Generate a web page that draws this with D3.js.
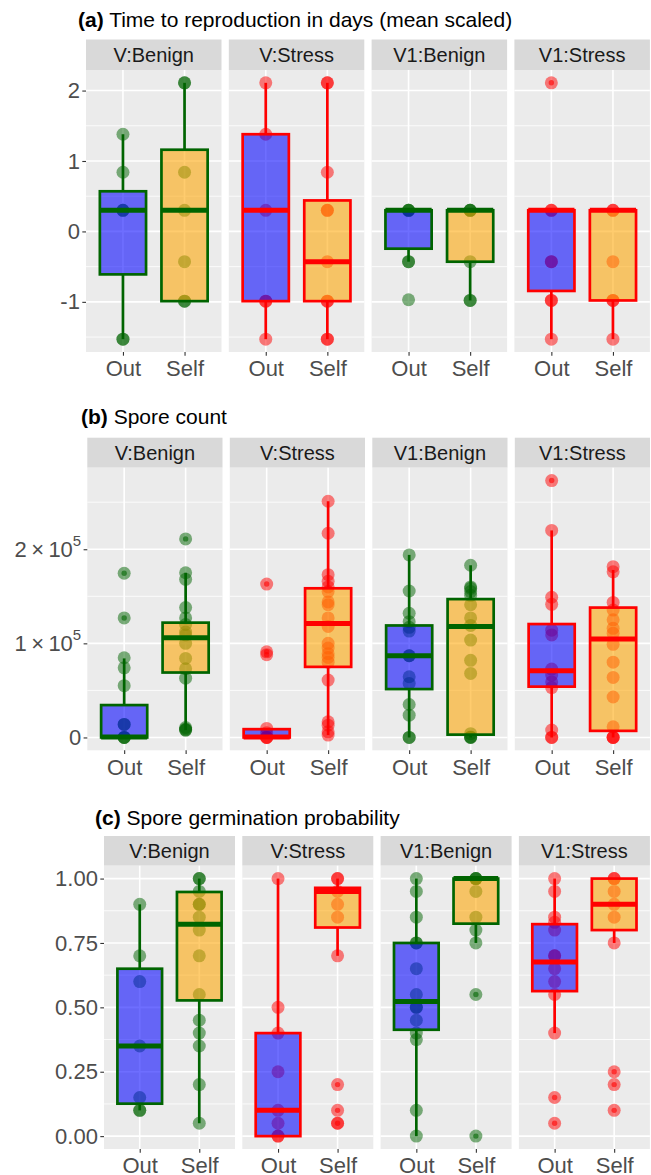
<!DOCTYPE html>
<html><head><meta charset="utf-8">
<script src="https://cdn.jsdelivr.net/npm/d3@7"></script>
<style>
body{margin:0;background:#fff}
text{font-family:"Liberation Sans",Arial,Helvetica,sans-serif}
</style>
</head><body>
<svg id="chart" width="651" height="1175"></svg>
<script>
// ---------- shared categories ----------
const facetLabels = ["V:Benign", "V:Stress", "V1:Benign", "V1:Stress"];
const facetStress = ["Benign", "Stress", "Benign", "Stress"];
const groupLabels = ["Out", "Self"];

// ---------- (a) Time to reproduction (mean scaled) ----------
// points per facet, [Out, Self]
const timePoints = [
  [[1.38, 0.84, 0.30, 0.30, -1.53, -1.53], [2.11, 2.11, 0.84, 0.30, -0.43, -0.99, -0.99]],
  [[2.11, 1.38, 0.30, -0.99, -0.99, -1.53], [2.11, 2.11, 0.84, 0.30, 0.30, -0.43, -0.99, -0.99, -1.53, -1.53]],
  [[0.30, 0.30, 0.30, -0.43, -0.43, -0.97], [0.30, 0.30, 0.30, -0.43, -0.98, -0.98]],
  [[2.11, 0.30, 0.30, -0.43, -0.43, -0.98, -0.98, -1.53], [0.30, 0.30, -0.43, -0.98, -0.98, -1.53]]
];
// box stats [lower whisker, q1, median, q3, upper whisker]
const timeBoxes = [
  [[-1.53, -0.61, 0.30, 0.57, 1.38], [-0.99, -0.99, 0.30, 1.16, 2.11]],
  [[-1.53, -0.99, 0.30, 1.38, 2.11], [-1.53, -0.99, -0.43, 0.44, 2.11]],
  [[-0.43, -0.245, 0.30, 0.30, 0.30], [-0.98, -0.43, 0.30, 0.30, 0.30]],
  [[-1.53, -0.845, 0.30, 0.30, 0.30], [-1.53, -0.98, 0.30, 0.30, 0.30]]
];
const timeOutliers = [
  [[], []],
  [[], []],
  [[], []],
  [[2.11], []]
];
const timeTicks = [-1, 0, 1, 2];
const timeTickLabels = [["-1", ""], ["0", ""], ["1", ""], ["2", ""]];

// ---------- (b) Spore count ----------
const sporePoints = [
  [[174500, 127000, 84700, 74000, 55000, 13800, 13800, 0, 0, 0],
   [211000, 175000, 168000, 138000, 127000, 120000, 112000, 109000, 100000, 84000, 73000, 63000, 10600, 9000, 7800, 7800]],
  [[163000, 91000, 88000, 9600, 5000, 0, 0, 0],
   [251000, 217000, 173000, 166000, 160000, 155000, 144000, 141000, 127000, 118000, 100000, 95000, 89000, 85000, 80000, 61000, 16600, 13000, 6000, 2500]],
  [[194000, 155600, 132000, 123000, 117000, 113000, 86800, 86800, 64500, 57400, 35000, 23700, 0, 0],
   [183000, 160000, 158500, 155000, 151000, 141000, 127000, 119000, 103500, 82000, 68000, 4000, 600, 0, 0]],
  [[273000, 220000, 149000, 141500, 114000, 109000, 72700, 66300, 59000, 53000, 7800, 0, 0],
   [181500, 176000, 143500, 135400, 125000, 116000, 110600, 99000, 80000, 63800, 43000, 11300, 0, 0, 0]]
];
const sporeBoxes = [
  [[0, 0, 500, 34400, 84000], [7800, 69000, 106000, 122000, 175000]],
  [[0, 0, 500, 8800, 9600], [2500, 75000, 121000, 158500, 251000]],
  [[0, 51400, 86800, 119000, 194000], [0, 3000, 118000, 147000, 183000]],
  [[0, 54000, 71000, 120500, 220000], [0, 7000, 104500, 138000, 178000]]
];
const sporeOutliers = [
  [[174500, 127000], [211000]],
  [[163000, 91000, 88000], []],
  [[], []],
  [[273000], []]
];
const sporeTicks = [0, 100000, 200000];
const sporeTickLabels = [["0", ""], ["1\u2009×\u200910", "5"], ["2\u2009×\u200910", "5"]];

// ---------- (c) Spore germination probability ----------
const germPoints = [
  [[0.90, 0.70, 0.60, 0.35, 0.15, 0.10, 0.10],
   [1.00, 1.00, 0.95, 0.90, 0.90, 0.85, 0.80, 0.70, 0.55, 0.45, 0.40, 0.35, 0.20, 0.05]],
  [[1.00, 0.50, 0.40, 0.25, 0.10, 0.05, 0.00, 0.00],
   [1.00, 1.00, 0.95, 0.90, 0.85, 0.70, 0.20, 0.10, 0.05, 0.05]],
  [[1.00, 0.95, 0.85, 0.75, 0.75, 0.65, 0.55, 0.50, 0.50, 0.45, 0.40, 0.375, 0.10, 0.00],
   [1.00, 1.00, 1.00, 0.95, 0.85, 0.80, 0.75, 0.55, 0.00]],
  [[1.00, 0.95, 0.85, 0.83, 0.80, 0.70, 0.70, 0.65, 0.60, 0.55, 0.40, 0.15, 0.05],
   [1.00, 1.00, 0.95, 0.90, 0.85, 0.75, 0.25, 0.20, 0.10]]
];
const germBoxes = [
  [[0.10, 0.126, 0.35, 0.65, 0.90], [0.05, 0.527, 0.823, 0.948, 1.00]],
  [[0.00, 0.00, 0.10, 0.40, 1.00], [0.70, 0.81, 0.95, 0.964, 1.00]],
  [[0.00, 0.413, 0.523, 0.75, 1.00], [0.75, 0.825, 1.00, 1.00, 1.00]],
  [[0.40, 0.563, 0.676, 0.823, 1.00], [0.75, 0.80, 0.90, 1.00, 1.00]]
];
const germOutliers = [
  [[], []],
  [[], [0.20, 0.10, 0.05]],
  [[], [0.55, 0.00]],
  [[0.15, 0.05], [0.25, 0.20, 0.10]]
];
const germTicks = [0, 0.25, 0.5, 0.75, 1];
const germTickLabels = [["0.00", ""], ["0.25", ""], ["0.50", ""], ["0.75", ""], ["1.00", ""]];

// ---------- styling ----------
const stressColor = { Benign: "#006400", Stress: "#FF0000" };
const groupFill = { Out: "#0000FF", Self: "#FFA500" };
const FILL_ALPHA = 0.57;
const POINT_ALPHA = 0.5;
const AXIS_FS = 22;
const STRIP_FS = 20;
const TITLE_FS = 21;

const svg = d3.select("#chart");

const layouts = [
  { tag: "(a)", title: " Time to reproduction in days (mean scaled)", titleX: 78, titleY: 27,
    left: 86, width: 135.5, gap: 7.3, stripTop: 39.5, top: 70, bottom: 352,
    points: timePoints, boxes: timeBoxes, outliers: timeOutliers, ticks: timeTicks, labels: timeTickLabels },
  { tag: "(b)", title: " Spore count", titleX: 81, titleY: 424,
    left: 87.3, width: 135.2, gap: 7.3, stripTop: 437.7, top: 467.7, bottom: 750.3,
    points: sporePoints, boxes: sporeBoxes, outliers: sporeOutliers, ticks: sporeTicks, labels: sporeTickLabels },
  { tag: "(c)", title: " Spore germination probability", titleX: 95, titleY: 825,
    left: 104, width: 131, gap: 7.3, stripTop: 836, top: 865.7, bottom: 1149,
    points: germPoints, boxes: germBoxes, outliers: germOutliers, ticks: germTicks, labels: germTickLabels }
];

layouts.forEach(L => {
  // title
  const t = svg.append("text").attr("x", L.titleX).attr("y", L.titleY)
    .attr("font-size", TITLE_FS).attr("fill", "#000");
  t.append("tspan").attr("font-weight", "bold").text(L.tag);
  t.append("tspan").text(L.title);

  // y domain from data with 5% expansion
  const allVals = [];
  L.points.forEach(f => f.forEach(g => g.forEach(v => allVals.push(v))));
  L.boxes.forEach(f => f.forEach(b => b.forEach(v => allVals.push(v))));
  const [mn, mx] = d3.extent(allVals);
  const pad = (mx - mn) * 0.05;
  const y = d3.scaleLinear().domain([mn - pad, mx + pad]).range([L.bottom, L.top]);

  const majors = L.ticks;
  const minors = [];
  for (let i = 0; i < majors.length - 1; i++) minors.push((majors[i] + majors[i + 1]) / 2);
  const step = majors[1] - majors[0];
  if (majors[0] - step / 2 >= mn - pad) minors.unshift(majors[0] - step / 2);
  if (majors[majors.length - 1] + step / 2 <= mx + pad) minors.push(majors[majors.length - 1] + step / 2);

  facetLabels.forEach((fl, fi) => {
    const x0 = L.left + fi * (L.width + L.gap);
    const g = svg.append("g").attr("transform", `translate(${x0},0)`);
    const x = d3.scalePoint().domain(groupLabels).range([0, L.width]).padding(0.6);
    const bw = x.step() * 0.75;
    const col = stressColor[facetStress[fi]];

    // strip
    g.append("rect").attr("x", 0).attr("y", L.stripTop).attr("width", L.width)
      .attr("height", L.top - L.stripTop).attr("fill", "#D9D9D9");
    g.append("text").attr("x", L.width / 2).attr("y", (L.stripTop + L.top) / 2)
      .attr("dy", "0.36em").attr("text-anchor", "middle").attr("font-size", STRIP_FS)
      .attr("fill", "#1A1A1A").text(fl);

    // panel background
    g.append("rect").attr("x", 0).attr("y", L.top).attr("width", L.width)
      .attr("height", L.bottom - L.top).attr("fill", "#EBEBEB");
    // grid
    g.selectAll(".minor").data(minors).join("line")
      .attr("x1", 0).attr("x2", L.width).attr("y1", d => y(d)).attr("y2", d => y(d))
      .attr("stroke", "#fff").attr("stroke-width", 0.8);
    g.selectAll(".major").data(majors).join("line")
      .attr("x1", 0).attr("x2", L.width).attr("y1", d => y(d)).attr("y2", d => y(d))
      .attr("stroke", "#fff").attr("stroke-width", 1.6);
    g.selectAll(".xmajor").data(groupLabels).join("line")
      .attr("x1", d => x(d)).attr("x2", d => x(d)).attr("y1", L.top).attr("y2", L.bottom)
      .attr("stroke", "#fff").attr("stroke-width", 1.6);

    groupLabels.forEach((gl, gi) => {
      const cx = x(gl);
      const pts = L.points[fi][gi];
      const b = L.boxes[fi][gi];
      // points
      g.selectAll(null).data(pts).join("circle")
        .attr("cx", cx).attr("cy", d => y(d)).attr("r", 6.5)
        .attr("fill", col).attr("fill-opacity", POINT_ALPHA);
      // whiskers
      g.append("line").attr("x1", cx).attr("x2", cx).attr("y1", y(b[3])).attr("y2", y(b[4]))
        .attr("stroke", col).attr("stroke-width", 2.7);
      g.append("line").attr("x1", cx).attr("x2", cx).attr("y1", y(b[1])).attr("y2", y(b[0]))
        .attr("stroke", col).attr("stroke-width", 2.7);
      // box
      g.append("rect").attr("x", cx - bw / 2).attr("width", bw)
        .attr("y", y(b[3])).attr("height", Math.max(0, y(b[1]) - y(b[3])))
        .attr("fill", groupFill[gl]).attr("fill-opacity", FILL_ALPHA)
        .attr("stroke", col).attr("stroke-width", 2.7);
      // median
      g.append("line").attr("x1", cx - bw / 2).attr("x2", cx + bw / 2)
        .attr("y1", y(b[2])).attr("y2", y(b[2]))
        .attr("stroke", col).attr("stroke-width", 5);
      // outliers
      g.selectAll(null).data(L.outliers[fi][gi]).join("circle")
        .attr("cx", cx).attr("cy", d => y(d)).attr("r", 2.7)
        .attr("fill", col).attr("fill-opacity", 0.6);
    });

    // x axis
    const xa = g.append("g").attr("transform", `translate(0,${L.bottom})`)
      .call(d3.axisBottom(x).tickSize(3.7).tickPadding(5));
    xa.select(".domain").remove();
    xa.selectAll("line").attr("stroke", "#333333").attr("stroke-width", 1.1);
    xa.selectAll("text").attr("font-size", AXIS_FS).attr("fill", "#4D4D4D")
      .attr("font-family", "Liberation Sans, Arial, sans-serif");

    // y axis on first facet
    if (fi === 0) {
      const ya = g.append("g")
        .call(d3.axisLeft(y).tickValues(L.ticks).tickSize(3.7).tickPadding(2.4).tickFormat(() => ""));
      ya.select(".domain").remove();
      ya.selectAll("line").attr("stroke", "#333333").attr("stroke-width", 1.1);
      ya.selectAll(".tick text").each(function (d, i) {
        const lab = L.labels[i];
        const tx = d3.select(this).text(null)
          .attr("font-size", AXIS_FS).attr("fill", "#4D4D4D")
          .attr("font-family", "Liberation Sans, Arial, sans-serif");
        tx.append("tspan").text(lab[0]);
        if (lab[1]) tx.append("tspan").attr("font-size", 15).attr("dy", "-0.75em").text(lab[1]);
      });
    }
  });
});
</script>
</body></html>
